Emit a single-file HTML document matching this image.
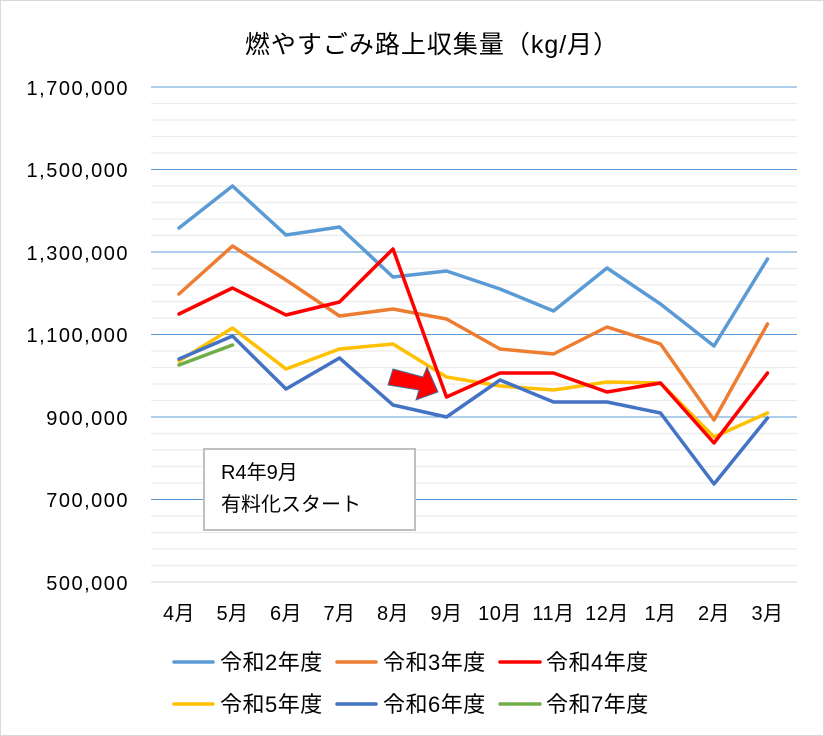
<!DOCTYPE html><html><head><meta charset="utf-8"><style>body{margin:0;background:#fff}svg{display:block}text{font-family:"Liberation Sans","Noto Sans CJK JP",sans-serif;fill:#000}</style></head><body>
<svg width="824" height="736" xmlns="http://www.w3.org/2000/svg">
<rect x="0.5" y="0.5" width="823" height="735" fill="#fff" stroke="#d9d9d9"/>
<text x="432" y="53" font-size="25" letter-spacing="1" text-anchor="middle">燃やすごみ路上収集量（kg/月）</text>
<g stroke="#ececec" stroke-width="1.3">
<line x1="151" x2="797" y1="103.5" y2="103.5"/><line x1="151" x2="797" y1="120" y2="120"/><line x1="151" x2="797" y1="136.5" y2="136.5"/><line x1="151" x2="797" y1="153" y2="153"/>
<line x1="151" x2="797" y1="186" y2="186"/><line x1="151" x2="797" y1="202.5" y2="202.5"/><line x1="151" x2="797" y1="219" y2="219"/><line x1="151" x2="797" y1="235.5" y2="235.5"/>
<line x1="151" x2="797" y1="268.5" y2="268.5"/><line x1="151" x2="797" y1="285" y2="285"/><line x1="151" x2="797" y1="301.5" y2="301.5"/><line x1="151" x2="797" y1="318" y2="318"/>
<line x1="151" x2="797" y1="351" y2="351"/><line x1="151" x2="797" y1="367.5" y2="367.5"/><line x1="151" x2="797" y1="384" y2="384"/><line x1="151" x2="797" y1="400.5" y2="400.5"/>
<line x1="151" x2="797" y1="433.5" y2="433.5"/><line x1="151" x2="797" y1="450" y2="450"/><line x1="151" x2="797" y1="466.5" y2="466.5"/><line x1="151" x2="797" y1="483" y2="483"/>
<line x1="151" x2="797" y1="516" y2="516"/><line x1="151" x2="797" y1="532.5" y2="532.5"/><line x1="151" x2="797" y1="549" y2="549"/><line x1="151" x2="797" y1="565.5" y2="565.5"/>
</g>
<g stroke="#5b9bd5" stroke-width="1">
<line x1="151" x2="797" y1="87" y2="87"/><line x1="151" x2="797" y1="169.5" y2="169.5"/><line x1="151" x2="797" y1="252" y2="252"/><line x1="151" x2="797" y1="334.5" y2="334.5"/><line x1="151" x2="797" y1="417" y2="417"/><line x1="151" x2="797" y1="499.5" y2="499.5"/>
</g>
<line x1="151" x2="797" y1="582" y2="582" stroke="#d9d9d9"/>
<g font-size="20" letter-spacing="1.5" text-anchor="end">
<text x="129" y="95">1,700,000</text><text x="129" y="177">1,500,000</text><text x="129" y="260">1,300,000</text><text x="129" y="342">1,100,000</text><text x="129" y="425">900,000</text><text x="129" y="507">700,000</text><text x="129" y="590">500,000</text>
</g>
<g font-size="20" letter-spacing="0.5" text-anchor="middle">
<text x="179" y="620">4月</text><text x="232.5" y="620">5月</text><text x="286" y="620">6月</text><text x="339.5" y="620">7月</text><text x="393" y="620">8月</text><text x="446.5" y="620">9月</text><text x="500" y="620">10月</text><text x="553.5" y="620">11月</text><text x="607" y="620">12月</text><text x="660.5" y="620">1月</text><text x="714" y="620">2月</text><text x="767.5" y="620">3月</text>
</g>
<g fill="none" stroke-width="3.5" stroke-linejoin="round" stroke-linecap="round">
<polyline stroke="#5b9bd5" points="179,228 232.5,186 286,235 339.5,227 393,277 446.5,271 500,289 553.5,311 607,268 660.5,304 714,346 767.5,259"/>
<polyline stroke="#ed7d31" points="179,294 232.5,246 286,280 339.5,316 393,309 446.5,319 500,349 553.5,354 607,327 660.5,344 714,420 767.5,324"/>
<polyline stroke="#ffc000" points="179,361 232.5,328 286,369 339.5,349 393,344 446.5,377 500,386 553.5,390 607,382 660.5,383 714,437 767.5,413"/>
<polyline stroke="#4472c4" points="179,359 232.5,336 286,389 339.5,358 393,405 446.5,417 500,380 553.5,402 607,402 660.5,413 714,484 767.5,418"/>
<polyline stroke="#ff0000" points="179,314 232.5,288 286,315 339.5,302 393,249 446.5,397 500,373 553.5,373 607,392 660.5,383 714,443 767.5,373"/>
<polyline stroke="#70ad47" points="179,365 232.5,345"/>
</g>
<polygon points="393,369 423,377 427,367 438,392 416,400 419,390 388,385" fill="#ff0000" stroke="#41719c" stroke-width="1"/>
<rect x="204" y="449" width="211" height="81" fill="#fff" stroke="#bfbfbf" stroke-width="2"/>
<text x="221" y="479" font-size="20">R4年9月</text>
<text x="221" y="511" font-size="20">有料化スタート</text>
<g stroke-width="3.5" stroke-linecap="round">
<line x1="174" x2="213" y1="662" y2="662" stroke="#5b9bd5"/><line x1="337" x2="376" y1="662" y2="662" stroke="#ed7d31"/><line x1="500" x2="540" y1="662" y2="662" stroke="#ff0000"/>
<line x1="174" x2="213" y1="704" y2="704" stroke="#ffc000"/><line x1="337" x2="376" y1="704" y2="704" stroke="#4472c4"/><line x1="500" x2="540" y1="704" y2="704" stroke="#70ad47"/>
</g>
<g font-size="22" letter-spacing="0.5">
<text x="220" y="670">令和2年度</text><text x="383" y="670">令和3年度</text><text x="546" y="670">令和4年度</text>
<text x="220" y="712">令和5年度</text><text x="383" y="712">令和6年度</text><text x="546" y="712">令和7年度</text>
</g>
</svg>
</body></html>
